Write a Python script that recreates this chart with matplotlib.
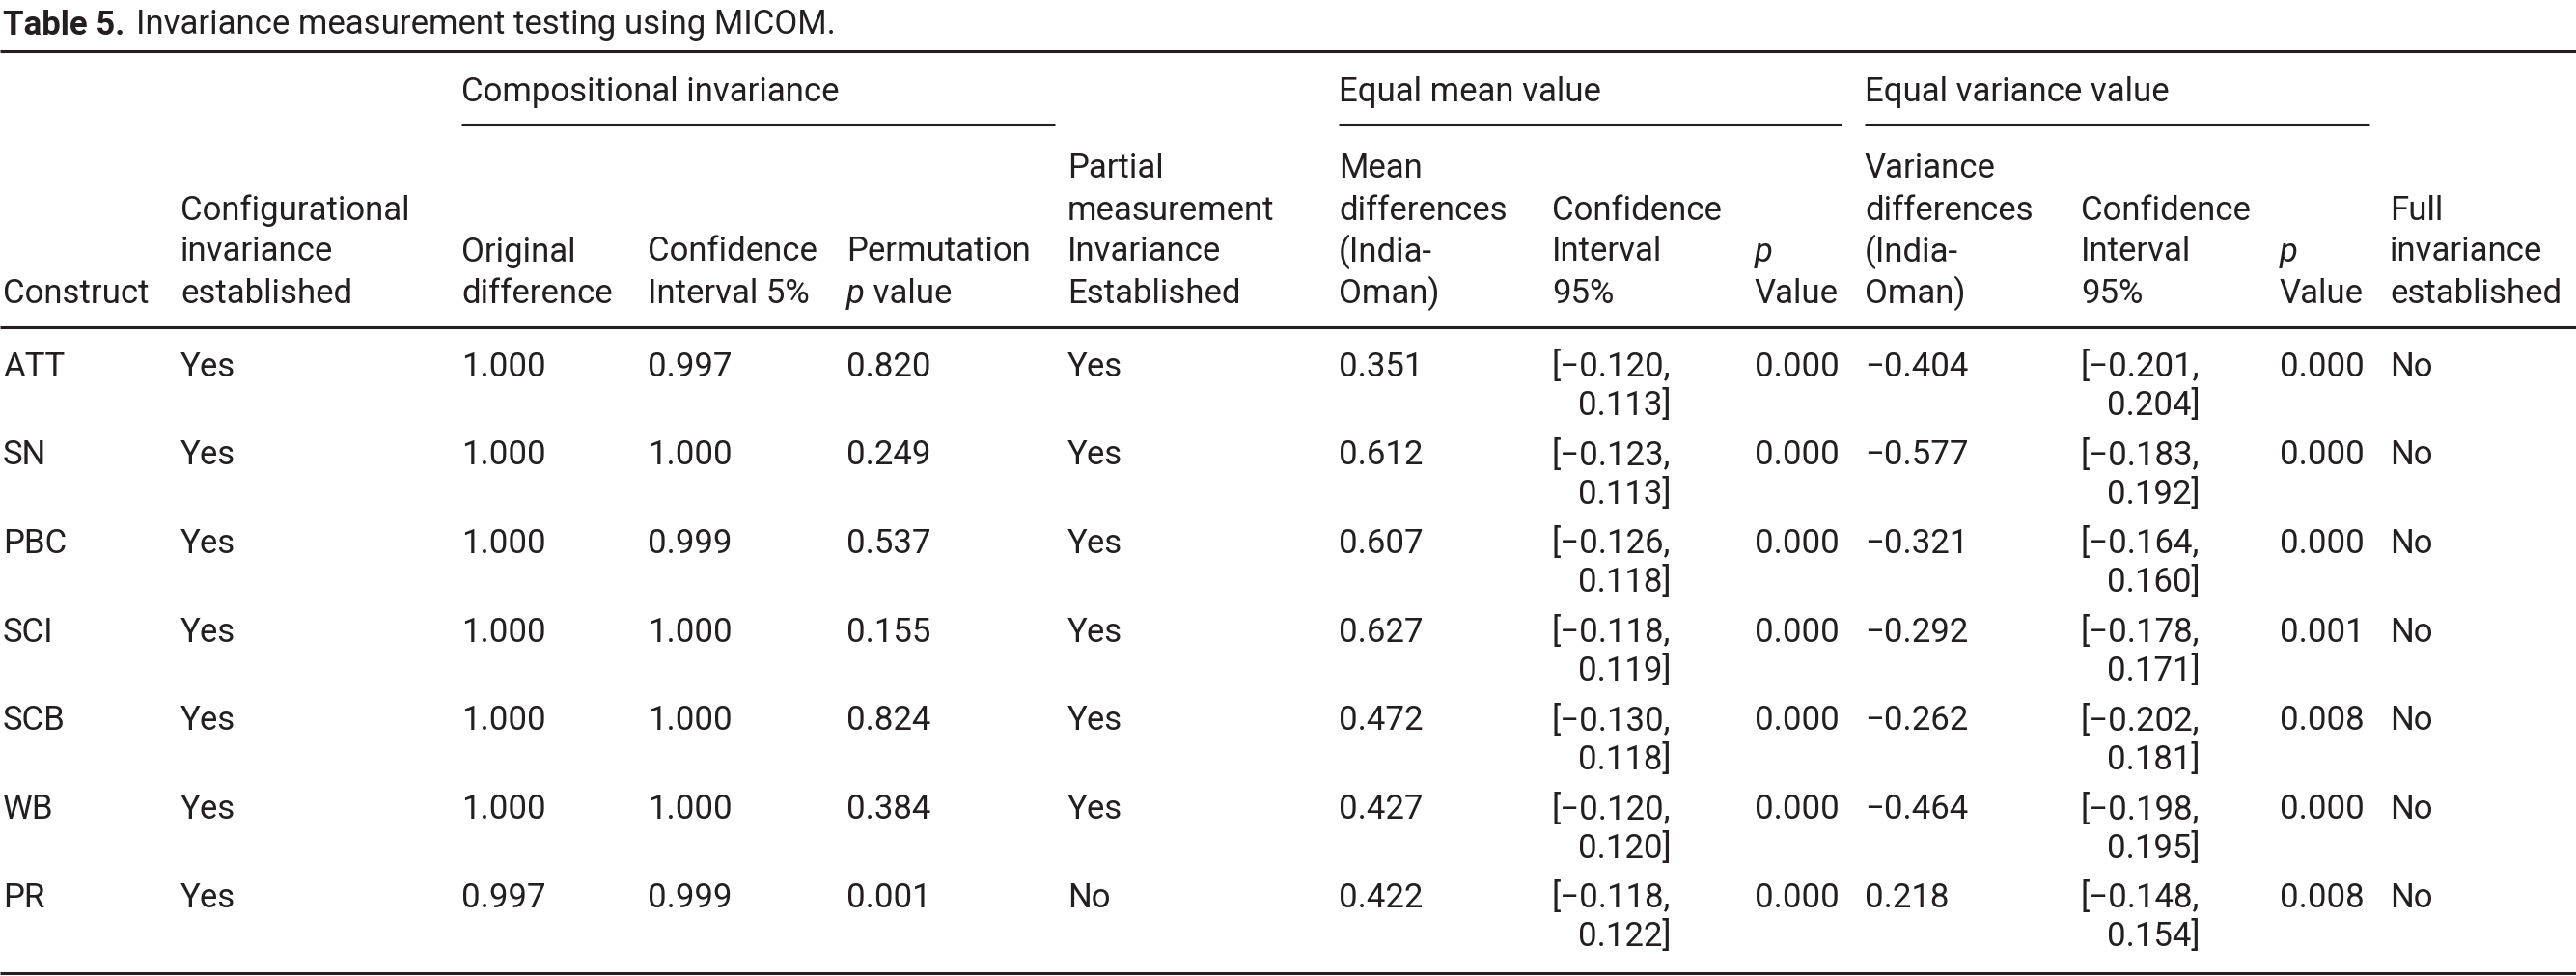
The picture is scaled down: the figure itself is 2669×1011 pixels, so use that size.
import matplotlib
matplotlib.use("Agg")
import matplotlib.pyplot as plt
from matplotlib import font_manager as fm

# ---- data -------------------------------------------------------------
constructs = ["ATT", "SN", "PBC", "SCI", "SCB", "WB", "PR"]
config_inv = ["Yes", "Yes", "Yes", "Yes", "Yes", "Yes", "Yes"]
orig_diff = ["1.000", "1.000", "1.000", "1.000", "1.000", "1.000", "0.997"]
ci_5 = ["0.997", "1.000", "0.999", "1.000", "1.000", "1.000", "0.999"]
perm_p = ["0.820", "0.249", "0.537", "0.155", "0.824", "0.384", "0.001"]
partial_inv = ["Yes", "Yes", "Yes", "Yes", "Yes", "Yes", "No"]
mean_diff = ["0.351", "0.612", "0.607", "0.627", "0.472", "0.427", "0.422"]
mean_ci_lo = ["\u22120.120", "\u22120.123", "\u22120.126", "\u22120.118", "\u22120.130", "\u22120.120", "\u22120.118"]
mean_ci_hi = ["0.113", "0.113", "0.118", "0.119", "0.118", "0.120", "0.122"]
mean_p = ["0.000", "0.000", "0.000", "0.000", "0.000", "0.000", "0.000"]
var_diff = ["\u22120.404", "\u22120.577", "\u22120.321", "\u22120.292", "\u22120.262", "\u22120.464", "0.218"]
var_ci_lo = ["\u22120.201", "\u22120.183", "\u22120.164", "\u22120.178", "\u22120.202", "\u22120.198", "\u22120.148"]
var_ci_hi = ["0.204", "0.192", "0.160", "0.171", "0.181", "0.195", "0.154"]
var_p = ["0.000", "0.000", "0.000", "0.001", "0.008", "0.000", "0.008"]
full_inv = ["No", "No", "No", "No", "No", "No", "No"]

title_bold = "Table 5."
title_rest = "Invariance measurement testing using MICOM."

# header lines per column; "*" prefix = italic run
headers = [
    [["Construct"]],
    [["Configurational"], ["invariance"], ["established"]],
    [["Original"], ["difference"]],
    [["Confidence"], ["Interval 5%"]],
    [["Permutation"], ["*p", " value"]],
    [["Partial"], ["measurement"], ["Invariance"], ["Established"]],
    [["Mean"], ["differences"], ["(India-"], ["Oman)"]],
    [["Confidence"], ["Interval"], ["95%"]],
    [["*p"], ["Value"]],
    [["Variance"], ["differences"], ["(India-"], ["Oman)"]],
    [["Confidence"], ["Interval"], ["95%"]],
    [["*p"], ["Value"]],
    [["Full"], ["invariance"], ["established"]],
]
groups = ["Compositional invariance", "Equal mean value", "Equal variance value"]

# ---- fonts ------------------------------------------------------------
reg = fm.FontProperties(family="Roboto")
ita = fm.FontProperties(family="Roboto", style="italic")
bold = fm.FontProperties(family="Roboto", weight="bold")
fs = 25

ink = "#231f20"
W, H = 2669, 1011
fig = plt.figure(figsize=(W / 100, H / 100), dpi=100)
ax = fig.add_axes([0, 0, 1, 1])
ax.set_xlim(0, W)
ax.set_ylim(H, 0)
ax.axis("off")
fig.canvas.draw()
renderer = fig.canvas.get_renderer()


def width(t):
    return t.get_window_extent(renderer).width * W / fig.bbox.width


def runs(x, y, parts):
    # draw consecutive text runs, italic if prefixed with "*"
    for p in parts:
        fp = reg
        if p.startswith("*"):
            fp, p = ita, p[1:]
        t = ax.text(x, y, p, fontproperties=fp, fontsize=fs, color=ink, va="center", ha="left")
        x += width(t)


col_x = [3, 187, 478, 671, 877, 1106, 1387, 1608, 1818, 1932, 2156, 2362, 2476]

# title
t = ax.text(3, 26, title_bold, fontproperties=bold, fontsize=fs, color=ink, va="center")
ax.text(3 + width(t) + 12, 26, title_rest, fontproperties=reg, fontsize=fs, color=ink, va="center")

# rules
for yr in [53, 339, 1008]:
    ax.plot([0, W], [yr, yr], color=ink, lw=2.2, solid_capstyle="butt")

# group headers
group_span = [(478, 1093), (1387, 1908), (1932, 2455)]
for g, (x0, x1) in zip(groups, group_span):
    ax.text(x0, 96, g, fontproperties=reg, fontsize=fs, color=ink, va="center")
    ax.plot([x0, x1], [129, 129], color=ink, lw=2.2, solid_capstyle="butt")

# column headers, bottom aligned
hdr_last = 304
hdr_step = 43
for x, lines in zip(col_x, headers):
    n = len(lines)
    for k, parts in enumerate(lines):
        runs(x, hdr_last - (n - 1 - k) * hdr_step, parts)

# body
row_y0 = 380
row_step = 91.7
line2 = 40
simple_cols = [constructs, config_inv, orig_diff, ci_5, perm_p, partial_inv, mean_diff,
               None, mean_p, var_diff, None, var_p, full_inv]
for i in range(len(constructs)):
    y = row_y0 + i * row_step
    for j, col in enumerate(simple_cols):
        if col is not None:
            ax.text(col_x[j], y, col[i], fontproperties=reg, fontsize=fs, color=ink, va="center")
    for j, lo, hi in [(7, mean_ci_lo, mean_ci_hi), (10, var_ci_lo, var_ci_hi)]:
        t1 = ax.text(col_x[j], y, "[" + lo[i] + ",", fontproperties=reg, fontsize=fs, color=ink, va="center")
        ax.text(col_x[j] + width(t1), y + line2, hi[i] + "]", fontproperties=reg, fontsize=fs,
                color=ink, va="center", ha="right")

fig.savefig("out.png", dpi=100, facecolor="white")
